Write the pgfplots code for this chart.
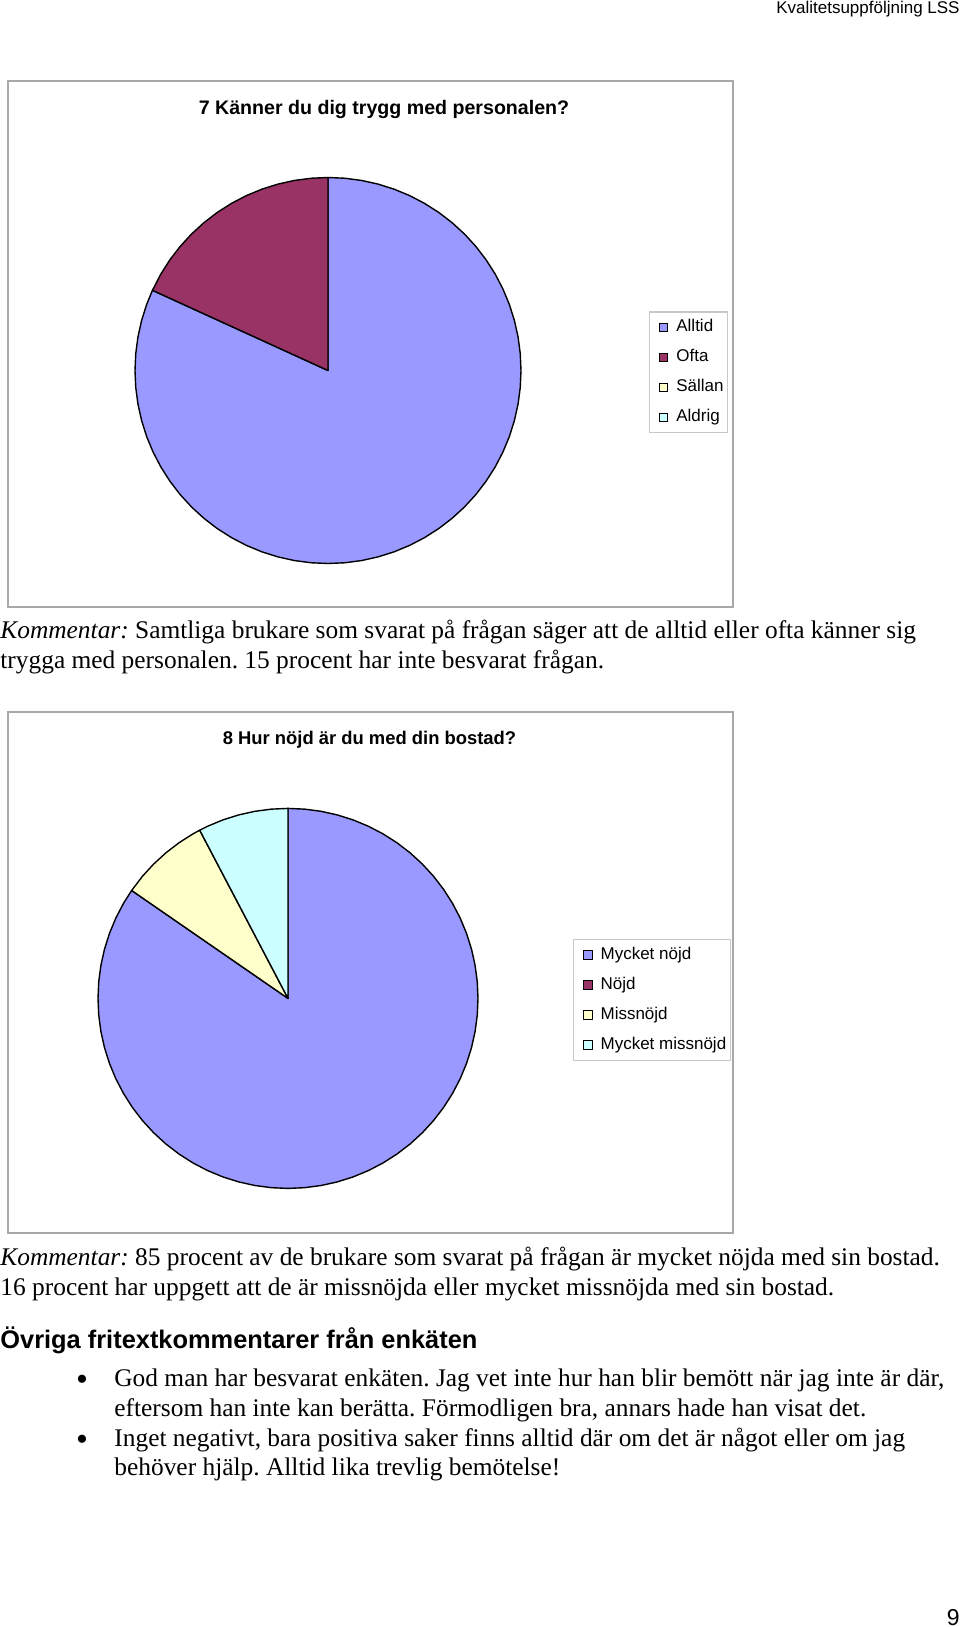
\documentclass[border=0pt]{standalone}
\usepackage{fontspec}
\setmainfont{Liberation Serif}
\newfontfamily\arial{Liberation Sans}
\usepackage{pgfplots}
\pgfplotsset{compat=1.18}
\definecolor{c1}{HTML}{9999FF}
\definecolor{c2}{HTML}{993366}
\definecolor{c3}{HTML}{FFFFCC}
\definecolor{c4}{HTML}{CCFFFF}
\definecolor{boxgray}{HTML}{A8A8A8}
\definecolor{leggray}{HTML}{C8C8C8}
\pgfplotsset{
  piestyle/.style={
    scale only axis, hide axis, xmin=-1, xmax=1, ymin=-1, ymax=1,
    anchor=center, clip=false,
    legend cell align=left,
    legend image code/.code={\path[draw=none, fill=none] (0pt,0pt) (11.5pt,0pt); \draw[##1, draw=black, line width=0.5pt] (2.9pt,-2.2pt) rectangle (7.3pt,2.2pt);},
    legend style={draw=leggray, line width=0.6pt, anchor=north west,
      font=\arial\fontsize{8.5}{10}\selectfont,
      inner xsep=2pt, inner ysep=2.2pt, row sep=4pt, column sep=0pt,
      nodes={inner xsep=0pt, inner ysep=1.5pt, text height=6.2pt, text depth=1.8pt}},
  },
  slice/.style={draw=black, line width=0.7pt, line join=round, data cs=polar},
}
\newcommand\body{\fontsize{12.7}{15}\selectfont\frenchspacing}
\begin{document}
\begin{tikzpicture}[x=0.5pt, y=0.5pt]
\path[use as bounding box] (0,0) rectangle (960,-1627);
% header
\node[anchor=base east, inner sep=0pt, font=\arial\fontsize{8.5}{10}\selectfont] at (960,-14) {Kvalitetsuppföljning LSS};
% ---------- chart 7 ----------
\draw[boxgray, line width=0.8pt] (8,-81) rectangle (733,-607);
\node[anchor=base, inner sep=0pt, font=\arial\bfseries\fontsize{9.8}{11}\selectfont] at (384,-115) {7 Känner du dig trygg med personalen?};
% values: Alltid 9, Ofta 2, Sällan 0, Aldrig 0 (of 11) -> slices start at 12 o'clock, clockwise
\begin{axis}[piestyle, width=193pt, height=193pt, at={(164pt,-185.25pt)},
  legend style={at={(1.331,0.653)}}]
\addplot[slice, fill=c1] coordinates {(0,0) (90,1) (85,1) (80,1) (75,1) (70,1) (65,1) (60,1) (55,1) (50,1) (45,1) (40,1) (35,1) (30,1) (25,1) (20,1) (15,1) (10,1) (5,1) (0,1) (-5,1) (-10,1) (-15,1) (-20,1) (-25,1) (-30,1) (-35,1) (-40,1) (-45,1) (-50,1) (-55,1) (-60,1) (-65,1) (-70,1) (-75,1) (-80,1) (-85,1) (-90,1) (-95,1) (-100,1) (-105,1) (-110,1) (-115,1) (-120,1) (-125,1) (-130,1) (-135,1) (-140,1) (-145,1) (-150,1) (-155,1) (-160,1) (-165,1) (-170,1) (-175,1) (-180,1) (-185,1) (-190,1) (-195,1) (-200,1) (-204.55,1)} -- cycle;
\addlegendentry{Alltid}
\addplot[slice, fill=c2] coordinates {(0,0) (155.45,1) (150,1) (145,1) (140,1) (135,1) (130,1) (125,1) (120,1) (115,1) (110,1) (105,1) (100,1) (95,1) (90,1)} -- cycle;
\addlegendentry{Ofta}
\addlegendimage{fill=c3}
\addlegendentry{Sällan}
\addlegendimage{fill=c4}
\addlegendentry{Aldrig}
\end{axis}
\node[anchor=base west, inner sep=0pt, font=\body] at (0,-638) {\textit{Kommentar:} Samtliga brukare som svarat på frågan säger att de alltid eller ofta känner sig};
\node[anchor=base west, inner sep=0pt, font=\body] at (0,-668) {trygga med personalen. 15 procent har inte besvarat frågan.};
% ---------- chart 8 ----------
\draw[boxgray, line width=0.8pt] (8,-712) rectangle (733,-1233);
\node[anchor=base, inner sep=0pt, font=\arial\bfseries\fontsize{9.2}{11}\selectfont] at (369.5,-744) {8 Hur nöjd är du med din bostad?};
% values: Mycket nöjd 11, Nöjd 0, Missnöjd 1, Mycket missnöjd 1 (of 13)
\begin{axis}[piestyle, width=190pt, height=190pt, at={(144pt,-499.2pt)},
  legend style={at={(1.25,0.656)}}]
\addplot[slice, fill=c1] coordinates {(0,0) (90,1) (85,1) (80,1) (75,1) (70,1) (65,1) (60,1) (55,1) (50,1) (45,1) (40,1) (35,1) (30,1) (25,1) (20,1) (15,1) (10,1) (5,1) (0,1) (-5,1) (-10,1) (-15,1) (-20,1) (-25,1) (-30,1) (-35,1) (-40,1) (-45,1) (-50,1) (-55,1) (-60,1) (-65,1) (-70,1) (-75,1) (-80,1) (-85,1) (-90,1) (-95,1) (-100,1) (-105,1) (-110,1) (-115,1) (-120,1) (-125,1) (-130,1) (-135,1) (-140,1) (-145,1) (-150,1) (-155,1) (-160,1) (-165,1) (-170,1) (-175,1) (-180,1) (-185,1) (-190,1) (-195,1) (-200,1) (-205,1) (-210,1) (-214.62,1)} -- cycle;
\addlegendentry{Mycket nöjd}
\addlegendimage{fill=c2}
\addlegendentry{Nöjd}
\addplot[slice, fill=c3] coordinates {(0,0) (145.38,1) (140,1) (135,1) (130,1) (125,1) (120,1) (117.69,1)} -- cycle;
\addlegendentry{Missnöjd}
\addplot[slice, fill=c4] coordinates {(0,0) (117.69,1) (115,1) (110,1) (105,1) (100,1) (95,1) (90,1)} -- cycle;
\addlegendentry{Mycket missnöjd}
\end{axis}
\node[anchor=base west, inner sep=0pt, font=\body] at (0,-1265) {\textit{Kommentar:} 85 procent av de brukare som svarat på frågan är mycket nöjda med sin bostad.};
\node[anchor=base west, inner sep=0pt, font=\body] at (0,-1295) {16 procent har uppgett att de är missnöjda eller mycket missnöjda med sin bostad.};
% ---------- free text ----------
\node[anchor=base west, inner sep=0pt, font=\arial\bfseries\fontsize{12.7}{15}\selectfont] at (0,-1348) {Övriga fritextkommentarer från enkäten};
\node[anchor=base, inner sep=0pt, font=\fontsize{17}{17}\selectfont] at (82,-1390) {\textbullet};
\node[anchor=base west, inner sep=0pt, font=\body] at (114,-1386) {God man har besvarat enkäten. Jag vet inte hur han blir bemött när jag inte är där,};
\node[anchor=base west, inner sep=0pt, font=\body] at (114,-1416) {eftersom han inte kan berätta. Förmodligen bra, annars hade han visat det.};
\node[anchor=base, inner sep=0pt, font=\fontsize{17}{17}\selectfont] at (82,-1450) {\textbullet};
\node[anchor=base west, inner sep=0pt, font=\body] at (114,-1446) {Inget negativt, bara positiva saker finns alltid där om det är något eller om jag};
\node[anchor=base west, inner sep=0pt, font=\body] at (114,-1475) {behöver hjälp. Alltid lika trevlig bemötelse!};
% page number
\node[anchor=base east, inner sep=0pt, font=\arial\fontsize{11.5}{13}\selectfont] at (960,-1625) {9};
\end{tikzpicture}
\end{document}
